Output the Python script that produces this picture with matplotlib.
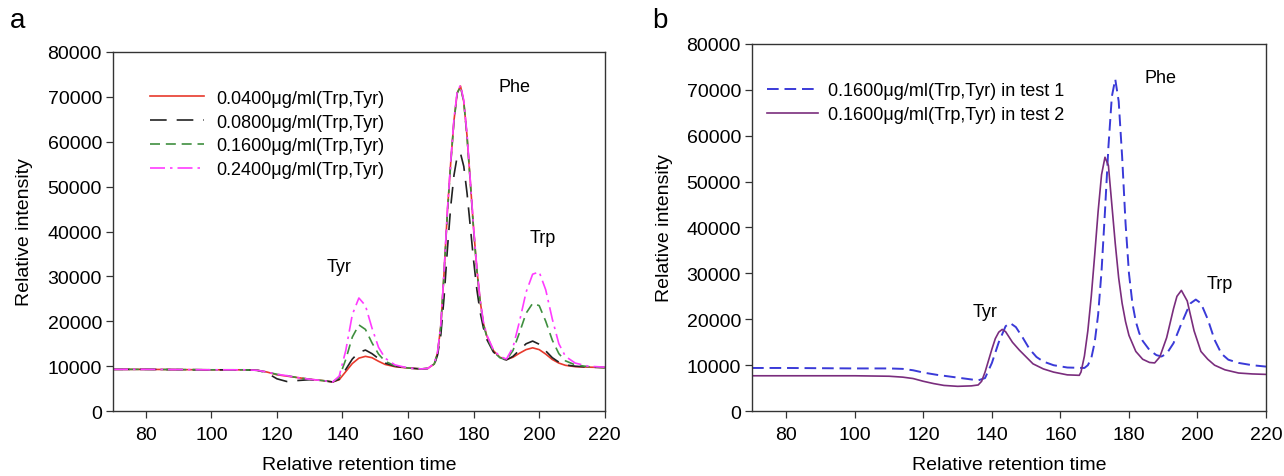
import numpy as np
import matplotlib
matplotlib.use('Agg')
import matplotlib.pyplot as plt

plt.rcParams['font.family'] = ['Liberation Sans', 'DejaVu Sans']

# Panel a: chromatograms at four concentrations
time_a = [70, 80, 90, 100, 110, 114, 117, 120, 123, 126, 130, 134, 137, 139, 141,
          143, 145, 147, 149, 151, 153, 156, 160, 164, 166, 168, 169, 170, 171, 172,
          173, 174, 175, 176, 177, 178, 179, 180, 181, 182, 183, 184, 186, 188, 190,
          192, 194, 196, 198, 200, 202, 204, 206, 208, 211, 215, 220]

conc_004 = [9300, 9300, 9250, 9200, 9200, 9100, 8700, 8100, 7800, 7500, 7100, 6800, 6500, 7000, 8800,
            10600, 11800, 12200, 11900, 11100, 10400, 9900, 9600, 9400, 9500, 10500, 13000, 19000, 31000, 44500,
            55200, 64700, 70900, 72400, 68900, 61200, 51000, 40500, 31500, 24500, 19500, 16800, 13500, 12000, 11500,
            12000, 12900, 13700, 14100, 13700, 12700, 11500, 10700, 10200, 9900, 9800, 9700]

conc_008 = [9300, 9300, 9250, 9200, 9200, 9100, 8500, 7200, 6600, 6800, 7000, 6800, 6500, 7100, 9300,
            11600, 13100, 13600, 12800, 11700, 10700, 10000, 9600, 9400, 9500, 10300, 12500, 17000, 25500, 36000,
            45500, 52500, 56800, 57400, 54500, 48500, 41000, 33500, 27000, 22000, 18500, 16000, 13200, 11800, 11400,
            12200, 13600, 15000, 15600, 14900, 13400, 11900, 10900, 10300, 10000, 9800, 9700]

conc_016 = [9300, 9300, 9250, 9200, 9200, 9100, 8700, 8200, 7900, 7500, 7100, 6800, 6500, 7500, 11500,
            16500, 19200, 18200, 15200, 12700, 11100, 10100, 9600, 9400, 9500, 10500, 13000, 19000, 31000, 44000,
            55000, 64500, 70800, 72300, 68800, 61000, 50800, 40300, 31300, 24300, 19300, 16600, 13300, 11900, 11400,
            13500, 17500, 21800, 24000, 23500, 20000, 15800, 12800, 11200, 10300, 9900, 9700]

conc_024 = [9300, 9300, 9250, 9200, 9200, 9100, 8700, 8200, 7900, 7500, 7100, 6800, 6500, 7800, 13500,
            21500, 25200, 23500, 18500, 14200, 11800, 10300, 9600, 9400, 9500, 10600, 13200, 19300, 31300, 44800,
            55500, 65000, 71200, 72600, 69200, 61500, 51300, 40800, 31800, 24800, 19800, 17000, 13700, 12200, 11600,
            14200, 20000, 26500, 30500, 31000, 27000, 20500, 15000, 12200, 10700, 10000, 9800]

labels_a = ['0.0400μg/ml(Trp,Tyr)', '0.0800μg/ml(Trp,Tyr)',
            '0.1600μg/ml(Trp,Tyr)', '0.2400μg/ml(Trp,Tyr)']

# Panel b: same concentration in two tests
time_t1 = [70, 80, 90, 100, 110, 114, 117, 120, 124, 128, 132, 136, 138, 140, 142,
           144, 145.3, 147, 149, 151, 153, 155, 158, 162, 167, 168, 169, 170, 171, 172,
           173, 174, 175, 176, 177, 178, 179, 180, 181, 182, 183, 184, 186, 188, 189.5,
           191, 193, 195, 197, 198, 199.5, 201, 203, 205, 207, 209, 212, 216, 220]
test_1 = [9400, 9400, 9350, 9300, 9300, 9200, 8900, 8400, 7900, 7500, 7100, 6700, 7200, 10500, 15000,
          18500, 19200, 18300, 16000, 13500, 11800, 10800, 10000, 9500, 9400, 10000, 11500, 15000, 21000, 30500,
          43500, 57500, 68500, 72300, 67500, 55500, 41000, 30000, 23500, 19500, 17000, 15300, 13300, 12200, 11900,
          12500, 14800, 18500, 22000, 23500, 24300, 23500, 20000, 15500, 12500, 11200, 10500, 10000, 9700]

time_t2 = [70, 80, 90, 100, 110, 114, 117, 120, 123, 126, 130, 134, 136, 137, 138,
           140, 141, 142, 143, 144, 146, 148, 150, 152, 155, 158, 162, 165.5, 166, 167,
           168, 169, 170, 171, 172, 173, 174, 175, 176, 177, 178, 179, 180, 182, 184,
           186, 187.5, 189, 191, 193, 194, 195.3, 197, 199, 201, 203, 205, 208, 212, 216, 220]
test_2 = [7700, 7700, 7700, 7700, 7600, 7400, 7100, 6500, 6000, 5600, 5400, 5500, 5700, 6500, 8500,
          13500, 15800, 17200, 17800, 17300, 15000, 13300, 11800, 10300, 9200, 8500, 7900, 7800, 8500, 12000,
          17500, 25000, 34000, 43500, 51500, 55300, 53500, 45000, 36500, 29000, 23500, 19500, 16500, 13000, 11300,
          10600, 10500, 11800, 16000, 22300, 25000, 26300, 24000, 17500, 13000, 11300, 10000, 9000, 8300, 8100, 8000]

labels_b = ['0.1600μg/ml(Trp,Tyr) in test 1', '0.1600μg/ml(Trp,Tyr) in test 2']


def style_axes(ax):
    ax.set_xlim(70, 220)
    ax.set_ylim(0, 80000)
    ax.set_xticks(np.arange(80, 221, 20))
    ax.set_yticks(np.arange(0, 80001, 10000))
    ax.tick_params(direction='out', length=5, width=0.9, labelsize=14, pad=3,
                   top=False, right=False, color='#333333')
    ax.tick_params(axis='x', pad=6)
    for s in ax.spines.values():
        s.set_linewidth(1.0)
        s.set_color('#333333')
    ax.set_xlabel('Relative retention time', fontsize=14, labelpad=9)
    ax.set_ylabel('Relative intensity', fontsize=14, labelpad=10)


fig = plt.figure(figsize=(12.84, 4.77), dpi=100)
ax1 = fig.add_axes([0.088, 0.136, 0.383, 0.753])
ax2 = fig.add_axes([0.5857, 0.136, 0.4003, 0.770])

ax1.plot(time_a, conc_004, color='#e8392c', lw=1.2, label=labels_a[0])
ax1.plot(time_a, conc_008, color='#222222', lw=1.2, linestyle=(0, (10, 6)), label=labels_a[1])
ax1.plot(time_a, conc_016, color='#3f8f3f', lw=1.2, linestyle=(0, (6, 3.5)), label=labels_a[2])
ax1.plot(time_a, conc_024, color='#ff3cff', lw=1.2, linestyle=(0, (9, 3, 1.5, 3)), label=labels_a[3])
style_axes(ax1)
ax1.legend(loc='upper left', bbox_to_anchor=(0.075, 0.895), frameon=False, fontsize=13,
           handlelength=3.0, handletextpad=0.65, labelspacing=0.38, borderpad=0, borderaxespad=0)
ax1.text(192.5, 72200, 'Phe', fontsize=13, ha='center', va='center')
ax1.text(138.9, 32200, 'Tyr', fontsize=13, ha='center', va='center')
ax1.text(201, 38700, 'Trp', fontsize=13, ha='center', va='center')

ax2.plot(time_t1, test_1, color='#3a3ad8', lw=1.4, linestyle=(0, (6, 3)), label=labels_b[0])
ax2.plot(time_t2, test_2, color='#7a2d7d', lw=1.2, label=labels_b[1])
style_axes(ax2)
ax2.legend(loc='upper left', bbox_to_anchor=(0.03, 0.895), frameon=False, fontsize=13,
           handlelength=2.8, handletextpad=0.55, labelspacing=0.38, borderpad=0, borderaxespad=0)
ax2.text(189.1, 72600, 'Phe', fontsize=13, ha='center', va='center')
ax2.text(138, 21700, 'Tyr', fontsize=13, ha='center', va='center')
ax2.text(206.6, 27900, 'Trp', fontsize=13, ha='center', va='center')

fig.text(0.008, 0.955, 'a', fontsize=20, ha='left', va='center')
fig.text(0.508, 0.955, 'b', fontsize=20, ha='left', va='center')

fig.savefig('out.png', dpi=100)
